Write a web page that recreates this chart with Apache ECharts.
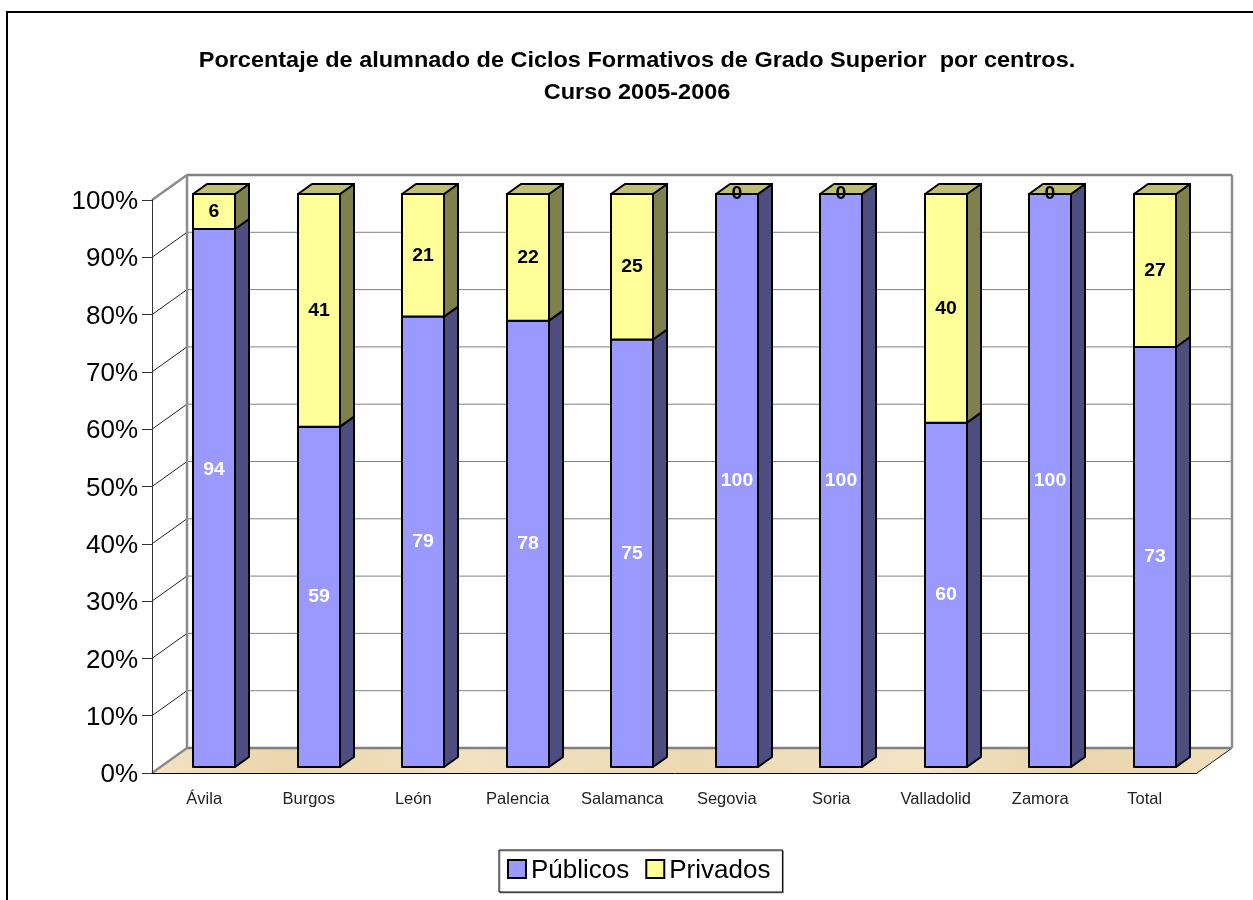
<!DOCTYPE html>
<html>
<head>
<meta charset="utf-8">
<script src="https://cdn.jsdelivr.net/npm/echarts@6/dist/echarts.min.js"></script>
<style>
    html, body { margin: 0; padding: 0; background: #fff; }
    #chart { width: 1253px; height: 900px; }
</style>
</head>
<body>
<div id="chart"></div>
<script>
    var centros = ['Ávila', 'Burgos', 'León', 'Palencia', 'Salamanca', 'Segovia', 'Soria', 'Valladolid', 'Zamora', 'Total'];
    var publicos = [93.9, 59.4, 78.6, 77.9, 74.6, 100, 100, 60.1, 100, 73.3];
    var privados = [6.1, 40.6, 21.4, 22.1, 25.4, 0, 0, 39.9, 0, 26.7];
    var ticksY = [0, 10, 20, 30, 40, 50, 60, 70, 80, 90, 100];
    var tituloLinea1 = 'Porcentaje de alumnado de Ciclos Formativos de Grado Superior  por centros.';
    var tituloLinea2 = 'Curso 2005-2006';

    var FONT = '"Liberation Sans", Arial, sans-serif';
    // fondo de la pared respecto al eje frontal
    var FONDO_X = 35, FONDO_Y = -25;
    // la barra esta algo metida hacia dentro y tiene su propia profundidad
    var BARRA_X = 10, BARRA_Y = -6, BARRA_W = 42, PROF_X = 14, PROF_Y = -10;
    // en el original la etiqueta de Avila esta movida a mano
    var movidas = { 'Ávila': -28 };

    function poly(pts, fill, stroke, lw) {
        return {
            type: 'polygon',
            shape: { points: pts },
            style: { fill: fill, stroke: stroke, lineWidth: lw === undefined ? 2 : lw, lineJoin: 'round' }
        };
    }

    function line(a, b, color, lw) {
        return {
            type: 'line',
            shape: { x1: a[0], y1: a[1], x2: b[0], y2: b[1] },
            style: { stroke: color, lineWidth: lw }
        };
    }

    function renderPared(params, api) {
        var v = api.value(1);
        var g = params.coordSys;
        var y = api.coord([0, v])[1];
        var izq = g.x, der = g.x + g.width;
        var hijos = [];
        var borde = v === 0 || v === 100;
        if (v === 0) {
            var suelo = poly([[izq, y], [izq + FONDO_X, y + FONDO_Y], [der + FONDO_X, y + FONDO_Y], [der, y]], '#EFDDB6', 'none', 0);
            suelo.style.fill = new echarts.graphic.LinearGradient(0, 0, 1, 0.3, [
                { offset: 0, color: '#F3E2C4' },
                { offset: 0.12, color: '#E9D6AC' },
                { offset: 0.3, color: '#F2E2C2' },
                { offset: 0.5, color: '#EBD9B2' },
                { offset: 0.7, color: '#F3E3C5' },
                { offset: 0.85, color: '#E8D5AC' },
                { offset: 1, color: '#F1DFBC' }
            ]);
            hijos.push(suelo);
            hijos.push(line([der, y], [der + FONDO_X, y + FONDO_Y], '#111', 1));
        }
        if (v === 100) {
            hijos.push(line([izq + FONDO_X, y + FONDO_Y], [izq + FONDO_X, g.y + g.height + FONDO_Y], '#8c8c8c', 2.5));
            hijos.push(line([der + FONDO_X, y + FONDO_Y], [der + FONDO_X, g.y + g.height + FONDO_Y], '#8c8c8c', 2.5));
        }
        hijos.push(line([izq, y], [izq + FONDO_X, y + FONDO_Y], borde ? '#8c8c8c' : '#222', borde ? 2.5 : 1));
        hijos.push(line([izq + FONDO_X, y + FONDO_Y], [der + FONDO_X, y + FONDO_Y], '#808080', borde ? 2.5 : 1));
        return { type: 'group', children: hijos };
    }

    function renderBarra(frente, lado, colorTexto, conEtiqueta) {
        return function (params, api) {
            var i = api.value(0);
            var p0 = api.coord([i, api.value(1)]);
            var p1 = api.coord([i, api.value(2)]);
            var x0 = Math.round(p0[0] + BARRA_X - BARRA_W / 2);
            var x1 = x0 + BARRA_W;
            var yb = p0[1] + BARRA_Y;
            var yt = p1[1] + BARRA_Y;
            var hijos = [
                poly([[x1, yb], [x1 + PROF_X, yb + PROF_Y], [x1 + PROF_X, yt + PROF_Y], [x1, yt]], lado, '#000'),
                poly([[x0, yb], [x1, yb], [x1, yt], [x0, yt]], frente, '#000')
            ];
            if (conEtiqueta) {
                // tapa superior, solo la serie de arriba
                hijos.push(poly([[x0, yt], [x0 + PROF_X, yt + PROF_Y], [x1 + PROF_X, yt + PROF_Y], [x1, yt]], '#BFBF73', '#000'));
            }
            var cx = (x0 + x1) / 2;
            var cy = (yb + yt) / 2 + (!conEtiqueta && movidas[centros[i]] || 0);
            hijos.push({
                type: 'text',
                z2: 10,
                x: cx,
                y: cy + 0.5,
                scaleX: 1.08,
                style: {
                    x: 0,
                    y: 0,
                    text: String(Math.round(api.value(2) - api.value(1))),
                    fill: colorTexto,
                    font: 'bold 18px ' + FONT,
                    align: 'center',
                    verticalAlign: 'middle'
                }
            });
            return { type: 'group', children: hijos };
        };
    }

    function textoTitulo(texto, y) {
        // el titulo del original sale mas ancho que la fuente, como estirado
        return {
            type: 'text',
            x: 637,
            y: y,
            scaleX: 1.067,
            silent: true,
            style: {
                x: 0,
                y: 0,
                text: texto,
                fill: '#000',
                font: 'bold 22px ' + FONT,
                align: 'center',
                verticalAlign: 'middle'
            }
        };
    }

    var datosPub = centros.map(function (c, i) { return [i, 0, publicos[i]]; });
    var datosPriv = centros.map(function (c, i) { return [i, publicos[i], publicos[i] + privados[i]]; });
    var datosPared = ticksY.map(function (t) { return [0, t]; });

    var myChart = echarts.init(document.getElementById('chart'), null, { renderer: 'canvas' });
    myChart.setOption({
        animation: false,
        textStyle: { fontFamily: FONT },
        graphic: [
            {
                type: 'polyline',
                shape: { points: [[7, 900], [7, 12], [1253, 12]] },
                style: { fill: 'none', stroke: '#000', lineWidth: 2 },
                silent: true
            },
            textoTitulo(tituloLinea1, 61),
            textoTitulo(tituloLinea2, 93)
        ],
        grid: { left: 152, right: 56, top: 200, bottom: 127 },
        legend: {
            data: ['Públicos', 'Privados'],
            left: 499,
            top: 850,
            padding: [8, 12, 8, 8],
            itemWidth: 18,
            itemHeight: 18,
            itemGap: 16,
            icon: 'rect',
            backgroundColor: '#fff',
            borderColor: '#000',
            borderWidth: 1,
            shadowColor: 'rgba(0,0,0,0.35)',
            shadowOffsetX: 1,
            shadowOffsetY: 1,
            formatter: '{a|{name}}',
            textStyle: {
                fontFamily: FONT,
                fontSize: 26,
                color: '#000',
                rich: { a: { fontFamily: FONT, fontSize: 26, color: '#000', padding: [4, 0, 0, 0] } }
            }
        },
        xAxis: {
            type: 'category',
            data: centros,
            z: 5,
            axisLine: { lineStyle: { color: '#000', width: 1 } },
            axisTick: { length: 10, lineStyle: { color: '#000' } },
            axisLabel: { color: '#222', fontSize: 16.5, margin: 18, interval: 0, fontFamily: FONT }
        },
        yAxis: {
            type: 'value',
            min: 0,
            max: 100,
            interval: 10,
            z: 5,
            splitLine: { show: false },
            axisLine: { show: true, lineStyle: { color: '#333', width: 1 } },
            axisTick: { show: true, length: 10, lineStyle: { color: '#333' } },
            axisLabel: { color: '#000', fontSize: 26, margin: 14, verticalAlign: 'top', lineHeight: 4, fontFamily: FONT, formatter: '{value}%' }
        },
        series: [
            {
                type: 'custom',
                name: 'pared',
                silent: true,
                z: 1,
                renderItem: renderPared,
                encode: { x: 0, y: 1 },
                data: datosPared
            },
            {
                type: 'custom',
                name: 'Públicos',
                z: 2,
                itemStyle: { color: '#9999FF', borderColor: '#000', borderWidth: 2 },
                renderItem: renderBarra('#9999FF', '#4D4D80', '#fff', false),
                encode: { x: 0, y: [1, 2] },
                data: datosPub
            },
            {
                type: 'custom',
                name: 'Privados',
                z: 3,
                itemStyle: { color: '#FFFF99', borderColor: '#000', borderWidth: 2 },
                renderItem: renderBarra('#FFFF99', '#80804D', '#000', true),
                encode: { x: 0, y: [1, 2] },
                data: datosPriv
            }
        ]
    });
</script>
</body>
</html>
